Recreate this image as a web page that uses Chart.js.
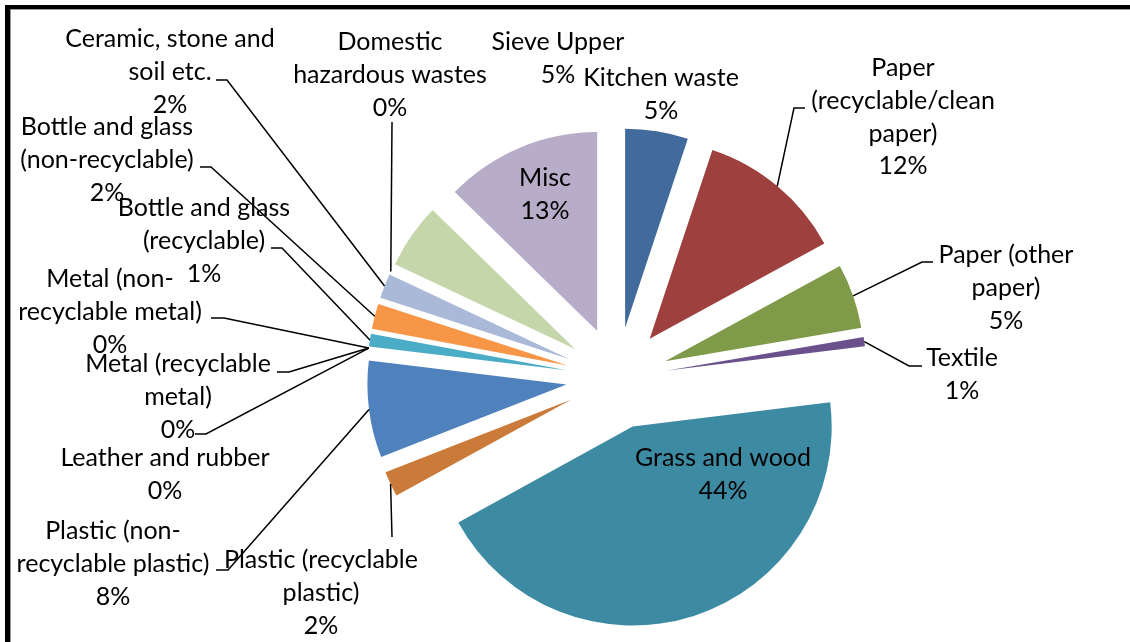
<!DOCTYPE html>
<html>
<head>
<meta charset="utf-8">
<script src="https://cdn.jsdelivr.net/npm/chart.js@4.4.1/dist/chart.umd.min.js"></script>
<style>
  html, body { margin: 0; padding: 0; background: #fff; }
  #wrap { position: relative; width: 1130px; height: 642px; overflow: hidden; }
  #myChart { position: absolute; left: 0; top: 0; }
  #frame { position: absolute; left: 5px; top: 5px; width: 1200px; height: 700px;
           border-left: 5px solid #000; border-top: 4px solid #000; }
  #frame div { width: 100%; height: 100%; border-left: 1px solid #999; border-top: 1px solid #999; }
</style>
</head>
<body>
<div id="wrap">
  <canvas id="myChart" width="1130" height="642"></canvas>
  <div id="frame"><div></div></div>
</div>
<script>
// Composicion de residuos (%)
const categories = [
  'Kitchen waste', 'Paper (recyclable/clean paper)', 'Paper (other paper)', 'Textile',
  'Grass and wood', 'Plastic (recyclable plastic)', 'Plastic (non-recyclable plastic)',
  'Leather and rubber', 'Metal (recyclable metal)', 'Metal (non-recyclable metal)',
  'Bottle and glass (recyclable)', 'Bottle and glass (non-recyclable)',
  'Ceramic, stone and soil etc.', 'Domestic hazardous wastes', 'Sieve Upper', 'Misc'
];
const shares = [5.1, 11.95, 5.25, 0.75, 43.95, 2.06, 7.85, 0, 0, 0, 1.03, 2.06, 2.0, 0, 5.3, 12.7];
const pctLabels = ['5%', '12%', '5%', '1%', '44%', '2%', '8%', '0%', '0%', '0%', '1%', '2%', '2%', '0%', '5%', '13%'];

// como se parten los nombres en la grafica
const labelLines = [
  ['Kitchen waste'],
  ['Paper', '(recyclable/clean', 'paper)'],
  ['Paper (other', 'paper)'],
  ['Textile'],
  ['Grass and wood'],
  ['Plastic (recyclable', 'plastic)'],
  ['Plastic (non-', 'recyclable plastic)'],
  ['Leather and rubber'],
  ['Metal (recyclable', 'metal)'],
  ['Metal (non-', 'recyclable metal)'],
  ['Bottle and glass', '(recyclable)'],
  ['Bottle and glass', '(non-recyclable)'],
  ['Ceramic, stone and', 'soil etc.'],
  ['Domestic', 'hazardous wastes'],
  ['Sieve Upper'],
  ['Misc']
];

const colors = ['#406B9C', '#9E413E', '#7F9A48', '#6B518C', '#3D8BA3', '#CB7B39', '#4F81BD',
  '#777777', '#777777', '#777777', '#4BACC6', '#F79646', '#AAB9D8', '#888888', '#C4D6AA', '#B8ADC8'];

// posicion de etiquetas (centro x, primera linea y) y codo de la guia
const labelAt = [
  [661, 78], [903, 68], [1006, 255], [962, 358], [723, 458], [321, 560], [113, 531], [165, 458],
  [178, 364], [110, 279], [204, 208], [107, 127], [170, 39], [390, 42], [558, 42], [545, 178]
];
const leaders = [
  null, [[805, 108], [794, 108]], [[933, 262], [922, 262]], [[922, 366], [909, 366]], null,
  [[392, 537]], [[216, 570], [228, 570]], [[195, 434], [206, 434]], [[277, 372], [289, 372]],
  [[211, 318], [224, 318]], [[271, 248], [282, 248]], [[200, 167], [211, 167]],
  [[216, 80], [227, 80]], [[392, 122]], null, null
];

const EXPLODE = 51;
const FONT = 'Lato';

// separa cada porcion del centro la misma distancia (como Excel)
const explodePlugin = {
  id: 'explodeAll',
  beforeDatasetsDraw(chart) {
    chart.getDatasetMeta(0).data.forEach(arc => {
      if (arc._exploded) return;
      const orig = arc.draw.bind(arc);
      arc.draw = (c) => {
        const half = (arc.startAngle + arc.endAngle) / 2;
        c.save();
        c.translate(Math.cos(half) * EXPLODE, Math.sin(half) * EXPLODE);
        orig(c);
        c.restore();
      };
      arc._exploded = true;
    });
  }
};

const labelsPlugin = {
  id: 'calloutLabels',
  afterDatasetsDraw(chart) {
    const c = chart.ctx;
    const arcs = chart.getDatasetMeta(0).data;
    c.save();
    c.font = '25px ' + FONT;
    c.fillStyle = '#000';
    c.strokeStyle = '#000';
    c.lineWidth = 1.5;
    c.textAlign = 'center';
    c.textBaseline = 'middle';
    arcs.forEach((arc, i) => {
      const p = arc.getProps(['x', 'y', 'startAngle', 'endAngle', 'outerRadius'], true);
      const half = (p.startAngle + p.endAngle) / 2;
      const r = EXPLODE + p.outerRadius;
      const tip = [p.x + Math.cos(half) * r, p.y + Math.sin(half) * r];
      if (leaders[i]) {
        const pts = leaders[i];
        c.beginPath();
        c.moveTo(pts[0][0], pts[0][1]);
        for (let k = 1; k < pts.length; k++) c.lineTo(pts[k][0], pts[k][1]);
        c.lineTo(tip[0], tip[1]);
        c.stroke();
      }
      const lines = labelLines[i].concat([pctLabels[i]]);
      lines.forEach((t, k) => c.fillText(t, labelAt[i][0], labelAt[i][1] + k * 32.8));
    });
    c.restore();
  }
};

const ctx = document.getElementById('myChart');

new Chart(ctx, {
  type: 'pie',
  data: {
    labels: categories,
    datasets: [{
      data: shares,
      backgroundColor: colors,
      borderWidth: 0,
      offset: 0
    }]
  },
  options: {
    responsive: false,
    animation: false,
    events: [],
    radius: 199,
    layout: { padding: { left: 104, right: 0, top: 114, bottom: 0 } },
    plugins: {
      legend: { display: false },
      tooltip: { enabled: false }
    }
  },
  plugins: [explodePlugin, labelsPlugin]
});
</script>
</body>
</html>
